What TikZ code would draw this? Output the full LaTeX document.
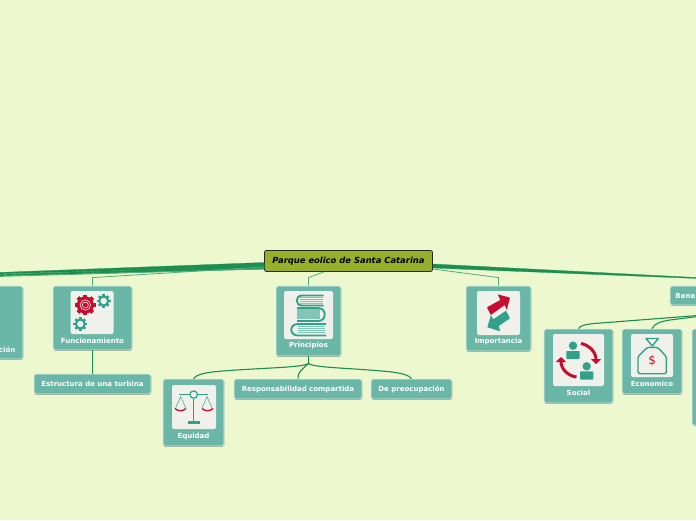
\documentclass[tikz,border=0pt]{standalone}
\usepackage{fontspec}
\setmainfont{DejaVu Sans}
\usetikzlibrary{positioning,arrows.meta,calc,shadows}
\definecolor{paper}{RGB}{238,248,206}
\definecolor{cardfill}{RGB}{107,183,167}
\definecolor{cardedge}{RGB}{226,242,234}
\definecolor{iconfill}{RGB}{240,241,234}
\definecolor{glyphred}{RGB}{198,12,48}
\definecolor{glyphteal}{RGB}{48,162,140}
\definecolor{glyphpale}{RGB}{130,198,182}
\definecolor{linkgreen}{RGB}{26,143,80}
\definecolor{rootfill}{RGB}{150,176,42}
\tikzset{
  card/.style={draw=cardedge, line width=0.8pt, rounded corners=1.5pt, fill=cardfill, inner sep=0pt,
    drop shadow={shadow xshift=0.3pt, shadow yshift=-0.9pt, fill=black, opacity=0.4}},
  cardtxt/.style={font=\bfseries\fontsize{7}{8}\selectfont, text=white, inner sep=0pt},
  iconbox/.style={fill=iconfill, rounded corners=2pt, inner sep=0pt},
  rootbox/.style={draw=black!85, line width=0.8pt, rounded corners=2pt, fill=rootfill, inner sep=0pt,
    font=\bfseries\itshape\fontsize{8.4}{9}\selectfont},
  link/.style={draw=linkgreen, line width=1.1pt},
  linklight/.style={draw=linkgreen!75, line width=0.8pt},
  wedge/.style={fill=linkgreen, draw=linkgreen, line width=0.3pt},
  glyphline/.style={draw=glyphteal, line width=1.9pt},
  swirl/.style={draw=glyphred, line width=3pt, -{Triangle[length=5pt,width=10pt]}}
}
\newcommand{\gearglyph}[4]{%
  \foreach \a in {0,45,...,315}
    \draw[#4, line width=#3*0.45pt] (#1,#2) ++(\a:#3*0.8) -- ++(\a:#3*0.42);
  \fill[#4] (#1,#2) circle[radius=#3];
}
\begin{document}
\begin{tikzpicture}[x=1pt,y=-1pt]
  \useasboundingbox (0,0) rectangle (696,520);
  \clip (0,0) rectangle (696,520);
  \fill[paper] (0,0) rectangle (696,520);

  \node[rootbox, minimum width=168pt, minimum height=21pt] (root) at (348.5,261) {Parque eolico de Santa Catarina};
  \node[card, minimum width=60pt, minimum height=73pt] (ubic) at (-7,322.5) {};
  \node[card, minimum width=79pt, minimum height=64pt] (func) at (92.5,318) {};
  \node[card, minimum width=117pt, minimum height=20pt] (estr) at (92.5,384) {};
  \node[card, minimum width=65pt, minimum height=70pt] (prin) at (308.5,321) {};
  \node[card, minimum width=61pt, minimum height=67pt] (equi) at (193.5,412.5) {};
  \node[card, minimum width=128pt, minimum height=20pt] (resp) at (298,389) {};
  \node[card, minimum width=81pt, minimum height=20pt] (prec) at (411.5,389) {};
  \node[card, minimum width=65pt, minimum height=65pt] (impo) at (498.5,318.5) {};
  \node[card, minimum width=60pt, minimum height=19pt] (bene) at (700,295.5) {};
  \node[card, minimum width=69pt, minimum height=74pt] (soci) at (578.5,366) {};
  \node[card, minimum width=60pt, minimum height=65pt] (econ) at (652,361.5) {};
  \node[card, minimum width=40pt, minimum height=96pt] (extr) at (712,377) {};

  \node[cardtxt, anchor=east] (ubiclbl) at (15.5,349.5) {ción};
  \node[cardtxt] (funclbl) at (92.5,341) {Funcionamiento};
  \node[cardtxt] (estrlbl) at (92.5,384) {Estructura de una turbina};
  \node[cardtxt] (prinlbl) at (308.5,346) {Principios};
  \node[cardtxt] (equilbl) at (193.5,436.5) {Equidad};
  \node[cardtxt] (resplbl) at (298,389.5) {Responsabilidad compartida};
  \node[cardtxt] (preclbl) at (411.5,389.5) {De preocupación};
  \node[cardtxt] (impolbl) at (498.5,342) {Importancia};
  \node[cardtxt, anchor=east] (benelbl) at (695.5,296) {Bene};
  \node[cardtxt] (socilbl) at (578.5,393) {Social};
  \node[cardtxt] (econlbl) at (652,384) {Economico};

  \node[iconbox, minimum width=43pt, minimum height=43pt] (funcicon) at (92,312.5) {};
  \node[iconbox, minimum width=49pt, minimum height=48pt] (prinicon) at (308.5,315) {};
  \node[iconbox, minimum width=44pt, minimum height=44pt] (equiicon) at (194,407) {};
  \node[iconbox, minimum width=43pt, minimum height=44pt] (impoicon) at (498.5,313) {};
  \node[iconbox, minimum width=51pt, minimum height=52pt] (sociicon) at (578.5,360) {};
  \node[iconbox, minimum width=42pt, minimum height=43pt] (econicon) at (652,355.5) {};

  % links out of the root
  \coordinate (offa) at (-2,272.5);
  \coordinate (offb) at (-2,274.5);
  \coordinate (offc) at (-2,276.5);
  \coordinate (offr) at (698,277.6);
  \draw[wedge] ($(root.west)+(0,1.5)$) -- (offa) -- ++(0,1.4) -- ($(root.west)+(0,5.5)$) -- cycle;
  \draw[wedge] ($(root.west)+(0,5)$) -- (offb) -- ++(0,1.4) -- ($(root.west)+(0,8)$) -- cycle;
  \draw[linklight] ($(root.west)+(0,8)$) -- (offc);
  \draw[wedge] ($(root.east)+(0,3)$) -- (offr) -- ++(0,0.9) -- ($(root.east)+(0,7)$) -- cycle;
  \draw[linklight] (func.north) -- ++(0,-8) -- ($(root.west)+(0,6)$);
  \draw[linklight] (prin.north) -- ++(0,-8) -- (323.5,272);
  \draw[linklight] (impo.north) -- ++(0,-8) -- ($(root.east)+(0,8)$);

  % links between topics
  \draw[link, line width=1.3pt] (func.south) -- (estr.north);
  \draw[link, line width=1.3pt] (prin.south) -- ++(0,7) coordinate (fork);
  \draw[link] (fork) .. controls (304,368) and (250,368) .. (212,372) .. controls (202,373.5) and (196,375) .. (equi.north);
  \draw[link] (fork) .. controls (303,369) and (298,371) .. (resp.north);
  \draw[link] (fork) .. controls (313,368) and (355,368) .. (392,372) .. controls (402,373.5) and (409,375) .. (prec.north);
  \coordinate (offs) at (698,315.5);
  \coordinate (offe) at (698,316.5);
  \draw[link] (soci.north) .. controls (580,326) and (584,324.5) .. (594,323.5) -- (offs);
  \draw[link] (econ.north) .. controls (654,324) and (660,321.5) .. (670,320) -- (offe);

  % gears
  \gearglyph{85.3}{305}{8.6}{glyphred}
  \draw[iconfill, line width=0.6pt] (85.3,305) circle[radius=5.2] (85.3,305) circle[radius=3];
  \gearglyph{103.7}{301}{5.6}{glyphteal}
  \fill[iconfill] (103.7,301) circle[radius=3.2];
  \gearglyph{80.3}{324}{5.6}{glyphteal}
  \fill[iconfill] (80.3,324) circle[radius=3.2];

  % books
  \foreach \yy in {297.5,299.5,301.5,303.5} \draw[glyphpale, line width=1.2pt] (300,\yy) -- (323,\yy);
  \foreach \yy in {310,312,314,316,318} \draw[glyphpale, line width=1.2pt] (297,\yy) -- (320,\yy);
  \foreach \yy in {326.5,328.5,330.5,332.5} \draw[glyphpale, line width=1.2pt] (298,\yy) -- (325,\yy);
  \draw[glyphline] (323.5,295.5) -- (302,295.5) .. controls (295,295.5) and (295,305.5) .. (302,305.5) -- (323.5,305.5);
  \draw[glyphline] (297,308) -- (318,308) .. controls (327,308) and (327,321) .. (318,321) -- (297,321);
  \draw[glyphline] (326,324) -- (298,324) .. controls (289,324) and (289,335.5) .. (298,335.5) -- (326,335.5);

  % scales
  \draw[glyphteal, line width=1.2pt] (179.3,394.5) -- (190,394.5) (197.5,394.5) -- (208.3,394.5);
  \draw[glyphteal, line width=1.2pt] (193.7,394.6) circle[radius=3.7];
  \draw[glyphteal, line width=1.3pt] (193.7,398.3) -- (193.7,421);
  \fill[glyphteal] (187.7,421) rectangle (199.7,424);
  \draw[glyphteal, line width=0.5pt] (175.7,407.7) -- (180.7,396.7) -- (185.7,407.7);
  \draw[glyphteal, line width=0.5pt] (202,407.7) -- (207,396.7) -- (212,407.7);
  \draw[glyphred, line width=1.3pt] (175,408.5) .. controls (178,411.5) and (183,411.5) .. (186,408.5);
  \draw[glyphred, line width=1.3pt] (202,408.5) .. controls (205,411.5) and (210,411.5) .. (213,408.5);

  % swapped arrows
  \fill[glyphteal, rounded corners=0.5pt] (510,318.3) -- (498.7,326) -- (500.3,331.3) -- (487.3,327.3) -- (491,315) -- (493.3,319.3) -- (506,310.7) -- cycle;
  \fill[glyphred, rounded corners=0.5pt] (487,307.3) -- (500.3,300) -- (497.7,294.3) -- (510,297.7) -- (506.7,310) -- (504.7,305) -- (490.7,315) -- cycle;

  % people in a cycle
  \draw[swirl] (581,343.5) .. controls (589,345) and (596,352) .. (596,364);
  \draw[swirl] (576.5,377) .. controls (568,376) and (561,369) .. (561,357);
  \fill[glyphteal] (573,345.7) circle[radius=4.2];
  \fill[glyphteal, rounded corners=0.8pt] (566.3,351) rectangle (579.7,359);
  \fill[glyphteal] (586.7,366.3) circle[radius=4.2];
  \fill[glyphteal, rounded corners=0.8pt] (580,371.3) rectangle (593.3,379.7);

  % money bag
  \draw[glyphteal, line width=1.4pt, line join=round] (646,338.5) -- (658.3,338.5) -- (652.3,346) -- cycle;
  \draw[glyphteal, line width=1.4pt, rounded corners=1.5pt] (647.5,347.3) -- (657.5,347.3) -- (666.3,356.5) -- (666.3,373.7) -- (638,373.7) -- (638,356.5) -- cycle;
  \node[text=glyphred, font=\fontsize{12}{13}\selectfont, inner sep=0pt] (dollar) at (652.3,360.7) {\$};
\end{tikzpicture}
\end{document}
